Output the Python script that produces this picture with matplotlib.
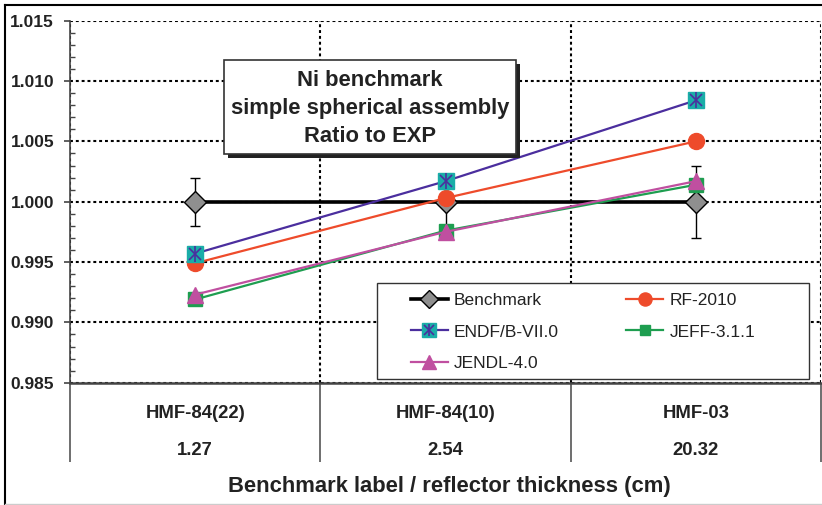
import matplotlib
matplotlib.use("Agg")
import matplotlib.pyplot as plt
from matplotlib.lines import Line2D
from matplotlib.patches import Rectangle
from matplotlib.ticker import MultipleLocator, FormatStrFormatter
from matplotlib.legend_handler import HandlerTuple

plt.rcParams["font.family"] = ["Liberation Sans", "DejaVu Sans"]

# ---- data -----------------------------------------------------------------
labels = ["HMF-84(22)", "HMF-84(10)", "HMF-03"]
thickness = ["1.27", "2.54", "20.32"]
benchmark = [1.000, 1.000, 1.000]
bench_err = [0.002, 0.002, 0.003]
rf2010 = [0.9949, 1.0003, 1.0050]
endf = [0.9957, 1.0017, 1.0084]
jeff = [0.9919, 0.9976, 1.0014]
jendl = [0.9923, 0.9975, 1.0017]

INK = "#222222"
GRAY_AX = "#444444"
RED = "#EE4B2B"
INDIGO = "#4B2E9E"
TEAL = "#1AADA8"
GREEN = "#1E9E50"
PINK = "#C04FA0"

W, H = 822, 505
fig = plt.figure(figsize=(W / 100, H / 100), dpi=100)
ax = fig.add_axes([70 / W, 1 - 382.7 / H, (821 - 70) / W, (382.7 - 20.7) / H])

x = list(range(len(labels)))

# ---- series ----------------------------------------------------------------
ax.errorbar(x, benchmark, yerr=bench_err, fmt="none", ecolor="black",
            elinewidth=1, capsize=3.3, capthick=1, zorder=3)
h_bench, = ax.plot(x, benchmark, color="black", lw=2.6, marker="D", ms=11,
                   mfc="#8f8f8f", mec="black", mew=1, zorder=4)
h_rf, = ax.plot(x, rf2010, color=RED, lw=1.6, marker="o", ms=11.5,
                mfc=RED, mec=RED, zorder=5)
h_endf, = ax.plot(x, endf, color=INDIGO, lw=1.6, marker="s", ms=12,
                  mfc=TEAL, mec=TEAL, zorder=6)
h_endf_x, = ax.plot(x, endf, ls="none", marker="x", ms=9, mec=INDIGO,
                    mew=1.2, zorder=7)
h_endf_v, = ax.plot(x, endf, ls="none", marker="|", ms=11, mec=INDIGO,
                    mew=1.2, zorder=7)
h_jeff, = ax.plot(x, jeff, color=GREEN, lw=1.6, marker="s", ms=9.5,
                  mfc=GREEN, mec=GREEN, zorder=8)
h_jendl, = ax.plot(x, jendl, color=PINK, lw=1.6, marker="^", ms=11.5,
                   mfc=PINK, mec=PINK, zorder=9)

# ---- axes ------------------------------------------------------------------
ax.set_xlim(-0.5, len(labels) - 0.5)
ax.set_ylim(0.985, 1.015)
ax.yaxis.set_major_locator(MultipleLocator(0.005))
ax.yaxis.set_minor_locator(MultipleLocator(0.001))
ax.yaxis.set_major_formatter(FormatStrFormatter("%.3f"))
ax.tick_params(axis="y", which="major", direction="out", length=4.5,
               width=1.2, color=GRAY_AX, labelsize=12.5, labelcolor=INK, pad=7)
ax.tick_params(axis="y", which="minor", direction="in", length=3.6,
               width=1.0, color=GRAY_AX)
for t in ax.get_yticklabels():
    t.set_fontweight("bold")

ax.set_xticks([i - 0.5 for i in range(len(labels) + 1)])
ax.set_xticklabels([])
ax.tick_params(axis="x", which="major", direction="out", length=57,
               width=1.2, color="#555555")

ax.grid(True, which="major", color="black", lw=1.5, ls=(0, (1.4, 1.4)),
        zorder=0)
ax.set_axisbelow(True)
for s in ("top", "right"):
    ax.spines[s].set_visible(False)
ax.spines["left"].set_color(GRAY_AX)
ax.spines["left"].set_linewidth(1.2)
ax.spines["bottom"].set_color(GRAY_AX)
ax.spines["bottom"].set_linewidth(1.8)

# left axis line continues down through the category area
ax.plot([-0.5, -0.5], [0, -0.218], transform=ax.get_yaxis_transform(),
        color=GRAY_AX, lw=1.2, clip_on=False)

for i, (lab, th) in enumerate(zip(labels, thickness)):
    ax.text(i, -0.086, lab, transform=ax.get_xaxis_transform(), ha="center",
            va="center", fontsize=13.3, fontweight="bold", color=INK)
    ax.text(i, -0.187, th, transform=ax.get_xaxis_transform(), ha="center",
            va="center", fontsize=13.3, fontweight="bold", color=INK)

fig.text(449 / W, 1 - 486.7 / H, "Benchmark label / reflector thickness (cm)",
         ha="center", va="center", fontsize=15.8, fontweight="bold", color=INK)

# ---- title box with drop shadow -------------------------------------------
bx0, by0, bx1, by1 = 224, 60, 516, 154
fig.add_artist(Rectangle(((bx0 + 3.5) / W, 1 - (by1 + 3.5) / H),
                         (bx1 - bx0) / W, (by1 - by0) / H,
                         transform=fig.transFigure, facecolor="#222222",
                         edgecolor="none", zorder=20))
fig.add_artist(Rectangle((bx0 / W, 1 - by1 / H), (bx1 - bx0) / W,
                         (by1 - by0) / H, transform=fig.transFigure,
                         facecolor="white", edgecolor="#333333", lw=1.2,
                         zorder=21))
fig.text((bx0 + bx1) / 2 / W, 1 - 108.5 / H,
         "Ni benchmark\nsimple spherical assembly\nRatio to EXP",
         ha="center", va="center", fontsize=15.8, fontweight="bold",
         color=INK, linespacing=1.43, zorder=22)

# ---- legend ------------------------------------------------------------------
ax.add_patch(Rectangle((0.409, 0.0102), 0.575, 0.266, transform=ax.transAxes,
                       facecolor="white", edgecolor="#333333", lw=1.0,
                       zorder=29, clip_on=False))

leg_kw = dict(loc="upper left", fontsize=12.5, frameon=False,
              borderpad=0, borderaxespad=0, handlelength=2.13,
              handletextpad=0.35, labelspacing=0.94, numpoints=1,
              markerscale=0.82,
              handler_map={tuple: HandlerTuple(ndivide=1, pad=0)})
leg_a = ax.legend([h_bench, (h_endf, h_endf_x, h_endf_v), h_jendl],
                  ["Benchmark", "ENDF/B-VII.0", "JENDL-4.0"],
                  bbox_to_anchor=(0.454, 0.248), **leg_kw)
leg_a.set_zorder(30)
ax.add_artist(leg_a)
leg_b = ax.legend([h_rf, h_jeff], ["RF-2010", "JEFF-3.1.1"],
                  bbox_to_anchor=(0.741, 0.248), **leg_kw)
leg_b.set_zorder(30)
for lg in (leg_a, leg_b):
    for t in lg.get_texts():
        t.set_color(INK)

# ---- outer frame -------------------------------------------------------------
fig.add_artist(Line2D([5 / W, 5 / W], [1 - 5 / H, 1 - 504 / H],
                      transform=fig.transFigure, color="black", lw=1.5))
fig.add_artist(Line2D([5 / W, 1], [1 - 5 / H, 1 - 5 / H],
                      transform=fig.transFigure, color="black", lw=1.5))
fig.add_artist(Line2D([5 / W, 1], [1 - 504 / H, 1 - 504 / H],
                      transform=fig.transFigure, color="#cccccc", lw=1.0))

fig.savefig("out.png", dpi=100, facecolor="white")
